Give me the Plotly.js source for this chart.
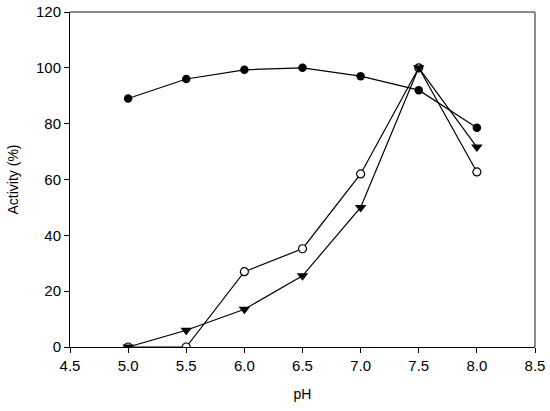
<!DOCTYPE html>
<html>
<head>
<meta charset="utf-8">
<script src="https://cdn.plot.ly/plotly-3.0.1.min.js"></script>
<style>
  html, body { margin: 0; padding: 0; background: #fff; }
  #chart { width: 550px; height: 411px; }
</style>
</head>
<body>
<div id="chart"></div>
<script>
// pH profile: relative activity of three samples
const pH = [5.0, 5.5, 6.0, 6.5, 7.0, 7.5, 8.0];
const filledCircle = [89, 96, 99.3, 100, 97, 92, 78.5];
const openCircle = [0, 0, 27, 35.2, 62, 100, 62.7];
const triangle = [0, 6, 13.5, 25.5, 50, 100, 71.6];

const xTicks = [4.5, 5.0, 5.5, 6.0, 6.5, 7.0, 7.5, 8.0, 8.5];
const xTickText = ['4.5', '5.0', '5.5', '6.0', '6.5', '7.0', '7.5', '8.0', '8.5'];

const line = { color: '#000', width: 1.2 };

const data = [
    {
        x: pH, y: openCircle, type: 'scatter', mode: 'lines+markers',
        line: line,
        marker: { symbol: 'circle', size: 8, color: '#fff', line: { color: '#000', width: 1.2 } }
    },
    {
        x: pH, y: filledCircle, type: 'scatter', mode: 'lines+markers',
        line: line,
        marker: { symbol: 'circle', size: 8.5, color: '#000' }
    },
    {
        x: pH, y: triangle, type: 'scatter', mode: 'lines+markers',
        line: line,
        marker: { symbol: 'triangle-down', size: 10, color: '#000' }
    }
];

const layout = {
    width: 550,
    height: 411,
    showlegend: false,
    paper_bgcolor: '#fff',
    plot_bgcolor: '#fff',
    font: { family: 'Liberation Sans, Arial, sans-serif', color: '#000', size: 15 },
    margin: { l: 70, r: 15, t: 12, b: 64 },
    xaxis: {
        range: [4.5, 8.5],
        tickvals: xTicks,
        ticktext: xTickText,
        ticks: 'outside', ticklen: 5, tickcolor: '#000', tickwidth: 1,
        showline: true, linecolor: '#000', linewidth: 1,
        showgrid: false, zeroline: false,
        title: { text: 'pH', font: { size: 14 }, standoff: 16 }
    },
    yaxis: {
        range: [0, 120],
        tickvals: [0, 20, 40, 60, 80, 100, 120],
        ticks: 'outside', ticklen: 5, tickcolor: '#000', tickwidth: 1,
        showline: true, linecolor: '#000', linewidth: 1,
        showgrid: false, zeroline: false,
        title: { text: 'Activity (%)', font: { size: 14 }, standoff: 14 }
    },
    shapes: [
        // lighter top and right frame lines
        { type: 'line', xref: 'paper', yref: 'paper', x0: 0, x1: 1, y0: 1, y1: 1, line: { color: '#666', width: 1.5 } },
        { type: 'line', xref: 'paper', yref: 'paper', x0: 1, x1: 1, y0: 0, y1: 1, line: { color: '#666', width: 1.5 } }
    ]
};

Plotly.newPlot('chart', data, layout, { staticPlot: true, displayModeBar: false });
</script>
</body>
</html>
